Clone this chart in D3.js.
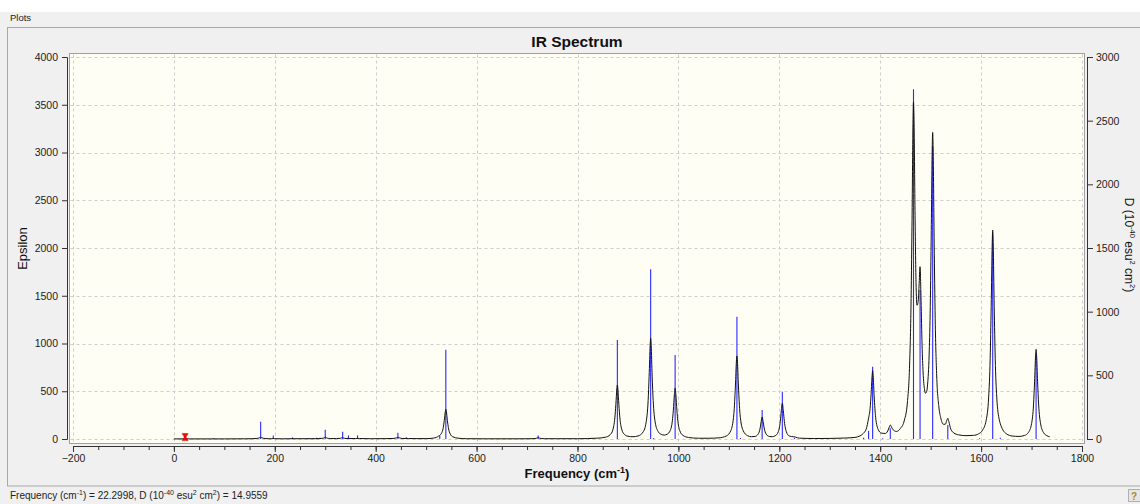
<!DOCTYPE html>
<html><head><meta charset="utf-8">
<script src="https://cdn.jsdelivr.net/npm/d3@7"></script>
<style>
html,body{margin:0;padding:0;background:#f0f0f0;}
svg{display:block;font-family:"Liberation Sans",Arial,sans-serif;}
</style></head><body>
<svg id="c" width="1140" height="504"></svg>
<script>
// ---- data ----
const xTicks = [-200, 0, 200, 400, 600, 800, 1000, 1200, 1400, 1600, 1800];
const yLeftTicks = [0, 500, 1000, 1500, 2000, 2500, 3000, 3500, 4000];
const yRightTicks = [0, 500, 1000, 1500, 2000, 2500, 3000];

// stick spectrum: frequency (cm-1) and D (10^-40 esu^2 cm^2)
const stickFreq = [22.3, 79, 172, 197, 235, 266, 276, 283, 290, 300, 334.5, 346, 364, 444, 461, 492, 527, 539, 722, 879,
  945, 951, 993.5, 1116, 1123, 1166, 1206, 1230, 1367, 1377, 1385, 1405, 1420, 1466, 1479, 1504, 1534, 1597, 1623, 1638, 1709];
const stickD = [15, 8, 136, 28, 13, 8, 8, 10, 10, 73, 57, 28, 28, 50, 12, 8, 25, 700, 28, 778,
  1333, 8, 660, 961, 8, 228, 372, 10, 10, 65, 568, 6, 84, 2747, 1170, 2300, 110, 6, 1600, 10, 673];

// broadened spectrum: frequency (cm-1) and epsilon
const curveFreq = [0,60,100,140,155,163,167,170,172,174,177,181,188,194,197,200,215,235,260,280,292,296,298,300,302,304,310,322,330,334,338,343,346,349,360,364,368,390,420,436,441,444,447,452,458,461,465,480,500,515,525,530,534,536,538,539,540,542,544,548,553,563,580,620,680,710,716,719,722,725,728,735,760,800,840,855,865,870,874,876,878,879,880,882,884,888,893,900,910,920,930,936,940,942,944,945,946,948,950,954,960,966,972,978,984,988,990,992,993.5,995,997,999,1003,1009,1020,1040,1060,1080,1095,1104,1110,1113,1115,1116,1117,1119,1122,1128,1137,1145,1152,1158,1162,1164,1166,1168,1170,1174,1180,1186,1192,1198,1202,1204,1206,1208,1210,1214,1220,1228,1230,1232,1240,1270,1300,1330,1350,1360,1367,1372,1377,1380,1382,1384,1385,1386,1388,1391,1396,1402,1410,1415,1418,1420,1422,1426,1432,1440,1448,1454,1458,1461,1463,1465,1466,1467,1469,1471,1473,1475,1477,1479,1481,1483,1485,1488,1490,1492,1494,1497,1499,1501,1503,1504,1505,1507,1509,1512,1516,1520,1525,1529,1532,1534,1536,1540,1546,1555,1570,1585,1595,1603,1610,1615,1618,1620,1622,1623,1624,1626,1628,1631,1636,1638,1643,1650,1662,1675,1686,1694,1700,1704,1706,1708,1709,1710,1712,1714,1718,1724,1730,1736];
const curveEps = [1,1,1,2,3,5,8,14,19,14,8,5,3,3,5,3,2,3,3,3,5,9,13,17,13,9,5,4,7,14,7,5,7,5,5,7,5,3,4,6,12,17,12,6,5,7,5,4,4,10,31,56,121,196,288,310,290,196,120,50,23,9,3,2,2,3,5,9,14,9,5,3,3,3,9,18,46,95,220,359,525,565,525,359,220,96,48,29,24,32,73,174,403,658,980,1054,980,658,405,175,77,48,41,51,91,190,302,464,531,463,301,186,84,38,16,8,8,12,32,88,268,555,815,869,815,555,268,92,35,24,27,50,113,180,230,180,115,51,27,24,34,76,185,295,374,295,185,76,31,24,24,20,9,5,6,10,17,32,62,100,219,321,473,668,715,661,452,224,100,62,58,84,125,147,129,95,79,110,198,388,735,1381,2225,3302,3530,3348,2391,1639,1400,1430,1600,1804,1450,983,701,514,479,495,575,880,1310,2070,3010,3210,3000,2050,1260,660,350,222,155,154,195,217,184,102,63,44,35,38,54,93,195,439,846,1384,2031,2188,2031,1384,845,440,203,162,96,55,31,27,37,70,160,367,598,876,939,876,598,366,158,65,36,23];

// selected point (status bar)
const selFreq = 22.2998;
const selD = 14.9559;

// ---- drawing ----
const svg = d3.select("#c");
const x = d3.scaleLinear().domain([-200, 1800]).range([73, 1082]);
const yL = d3.scaleLinear().domain([0, 4000]).range([439, 57]);
const yR = d3.scaleLinear().domain([0, 3000]).range([439, 57]);
const box = {x0: 69.5, x1: 1084.5, y0: 53.5, y1: 443.5};
const fmt = d3.format("d");

// window chrome
svg.append("rect").attr("x", 0).attr("y", 0).attr("width", 1140).attr("height", 12).attr("fill", "#ffffff");
svg.append("rect").attr("x", 0).attr("y", 12).attr("width", 1140).attr("height", 492).attr("fill", "#f0f0f0");
svg.append("text").attr("x", 10).attr("y", 21).attr("font-size", 9.5).attr("fill", "#222").text("Plots");
svg.append("rect").attr("x", 7.5).attr("y", 27.5).attr("width", 1140).attr("height", 458.5)
  .attr("fill", "#f0f0f0").attr("stroke", "#a8a8a8");

// plot area
svg.append("rect").attr("x", box.x0).attr("y", box.y0).attr("width", box.x1 - box.x0).attr("height", box.y1 - box.y0)
  .attr("fill", "#fefef4").attr("stroke", "#a0a0a0");

// grid
const grid = svg.append("g").attr("stroke", "#cfcfcf").attr("stroke-dasharray", "3,3").attr("stroke-width", 1);
grid.selectAll("line.v").data(xTicks).join("line").attr("class", "v")
  .attr("x1", d => Math.round(x(d)) + 0.5).attr("x2", d => Math.round(x(d)) + 0.5)
  .attr("y1", box.y0 + 1).attr("y2", box.y1 - 1);
grid.selectAll("line.h").data(yLeftTicks).join("line").attr("class", "h")
  .attr("y1", d => Math.round(yL(d)) + 0.5).attr("y2", d => Math.round(yL(d)) + 0.5)
  .attr("x1", box.x0 + 1).attr("x2", box.x1 - 1);

// sticks
svg.append("g").selectAll("line").data(stickFreq).join("line")
  .attr("x1", d => x(d)).attr("x2", d => x(d))
  .attr("y1", yR(0)).attr("y2", (d, i) => yR(stickD[i]))
  .attr("stroke", "#2a2aff").attr("stroke-width", 1.1);

// curve
const pts = curveFreq.map((f, i) => [f, curveEps[i]]);
svg.append("path").datum(pts)
  .attr("d", d3.line().x(d => x(d[0])).y(d => yL(d[1])).curve(d3.curveMonotoneX))
  .attr("fill", "none").attr("stroke", "#111").attr("stroke-width", 1);

// selected marker
svg.append("path").attr("transform", `translate(${x(selFreq)},${yR(selD)})`)
  .attr("d", "M-3,-3.5 L3,-3.5 L0.8,0 L3,3.5 L-3,3.5 L-0.8,0 Z").attr("fill", "#ff0000").attr("stroke", "#d00000").attr("stroke-width", 0.5);

// axes
function styleAxis(g) {
  g.selectAll("path,line").attr("stroke", "#333");
  g.selectAll("text").attr("fill", "#222").attr("font-size", 10.5).attr("font-family", "Liberation Sans, Arial, sans-serif");
}
const gl = svg.append("g").attr("transform", "translate(67,0)")
  .call(d3.axisLeft(yL).tickValues(yLeftTicks).tickFormat(fmt).tickSize(5).tickSizeOuter(5).tickPadding(4));
styleAxis(gl);
const gr = svg.append("g").attr("transform", "translate(1087,0)")
  .call(d3.axisRight(yR).tickValues(yRightTicks).tickFormat(fmt).tickSize(6).tickSizeOuter(6).tickPadding(3));
styleAxis(gr);
const xMinor = d3.range(-200, 1801, 50);
const gbm = svg.append("g").attr("transform", "translate(0,446)")
  .call(d3.axisBottom(x).tickValues(xMinor).tickSize(4).tickFormat(""));
gbm.select(".domain").remove();
styleAxis(gbm);
const gb = svg.append("g").attr("transform", "translate(0,446)")
  .call(d3.axisBottom(x).tickValues(xTicks).tickFormat(fmt).tickSize(6).tickSizeOuter(6).tickPadding(3));
styleAxis(gb);

// titles
svg.append("text").attr("x", (box.x0 + box.x1) / 2).attr("y", 47).attr("text-anchor", "middle")
  .attr("font-size", 15.5).attr("font-weight", "bold").attr("fill", "#111").text("IR Spectrum");

const xt = svg.append("text").attr("x", (box.x0 + box.x1) / 2).attr("y", 478).attr("text-anchor", "middle")
  .attr("font-size", 13).attr("font-weight", "bold").attr("fill", "#111");
xt.append("tspan").text("Frequency (cm");
xt.append("tspan").attr("dy", -5).attr("font-size", 9).text("-1");
xt.append("tspan").attr("dy", 5).text(")");

svg.append("text").attr("transform", `translate(27,${(box.y0 + box.y1) / 2}) rotate(-90)`)
  .attr("text-anchor", "middle").attr("font-size", 13).attr("fill", "#111").text("Epsilon");

const rt = svg.append("text").attr("transform", "translate(1125,245) rotate(90)")
  .attr("text-anchor", "middle").attr("font-size", 12).attr("fill", "#111");
rt.append("tspan").text("D (10");
rt.append("tspan").attr("dy", -5).attr("font-size", 7.5).text("-40");
rt.append("tspan").attr("dy", 5).text(" esu");
rt.append("tspan").attr("dy", -5).attr("font-size", 7.5).text("2");
rt.append("tspan").attr("dy", 5).text(" cm");
rt.append("tspan").attr("dy", -5).attr("font-size", 7.5).text("2");
rt.append("tspan").attr("dy", 5).text(")");

// status bar
const st = svg.append("text").attr("x", 10).attr("y", 499).attr("font-size", 10).attr("fill", "#222");
st.append("tspan").text("Frequency (cm");
st.append("tspan").attr("dy", -4).attr("font-size", 7).text("-1");
st.append("tspan").attr("dy", 4).text(`) = ${selFreq}, D (10`);
st.append("tspan").attr("dy", -4).attr("font-size", 7).text("-40");
st.append("tspan").attr("dy", 4).text(" esu");
st.append("tspan").attr("dy", -4).attr("font-size", 7).text("2");
st.append("tspan").attr("dy", 4).text(" cm");
st.append("tspan").attr("dy", -4).attr("font-size", 7).text("2");
st.append("tspan").attr("dy", 4).text(`) = ${selD}`);

svg.append("rect").attr("x", 1128.5).attr("y", 489.5).attr("width", 12).attr("height", 12)
  .attr("fill", "#e6e6e6").attr("stroke", "#b0b0b0");
svg.append("text").attr("x", 1134).attr("y", 499.5).attr("text-anchor", "middle").attr("font-size", 10)
  .attr("font-weight", "bold").attr("fill", "#b08a20").text("?");
</script>
</body></html>
